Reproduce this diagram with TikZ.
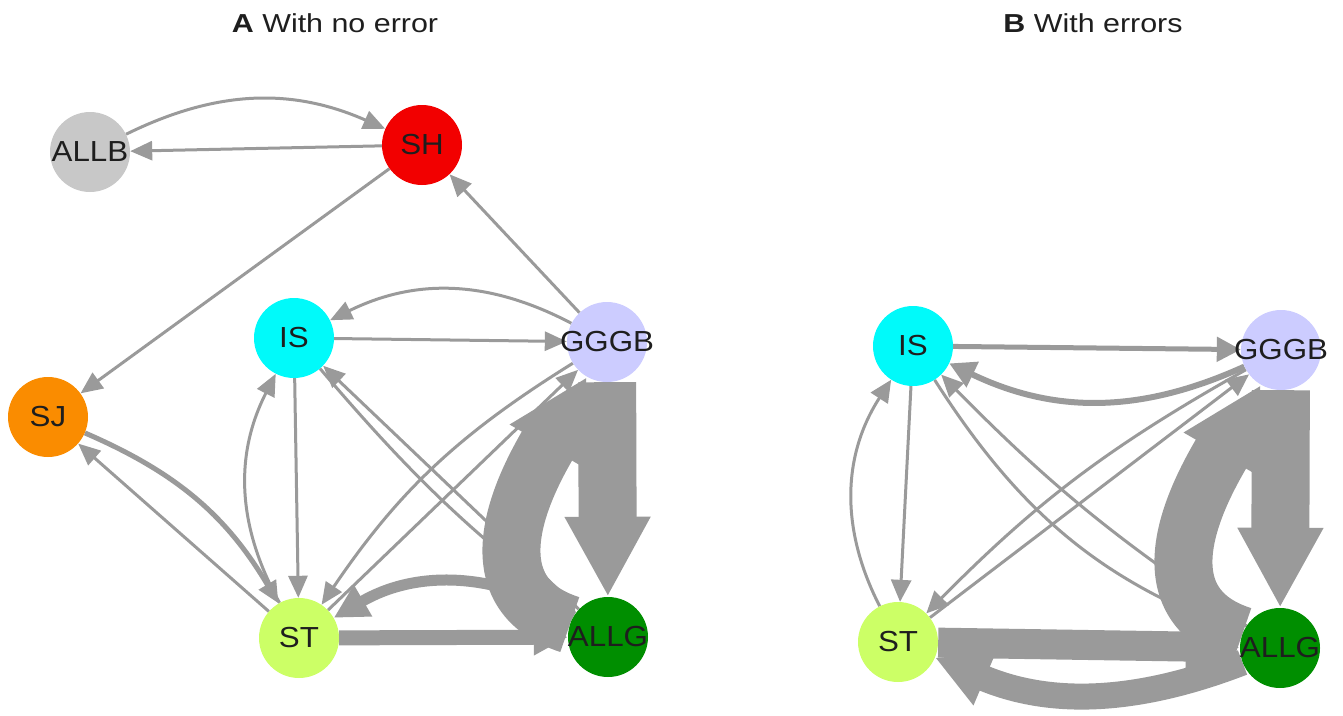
\documentclass[tikz,border=0pt]{standalone}
\usepackage{fontspec}
\setmainfont{Liberation Sans}
\usetikzlibrary{arrows.meta,backgrounds}
\definecolor{eg}{HTML}{9A9A9A}
\definecolor{cALLB}{HTML}{C8C8C8}
\definecolor{cSH}{HTML}{F20000}
\definecolor{cIS}{HTML}{00FAFA}
\definecolor{cGGGB}{HTML}{CCCCFF}
\definecolor{cSJ}{HTML}{FA8C00}
\definecolor{cST}{HTML}{CCFF66}
\definecolor{cALLG}{HTML}{008E00}
\definecolor{txt}{HTML}{1E1E1E}
\newcommand{\nlab}[1]{\makebox[0pt]{\scalebox{1.08}[1]{\fontsize{29pt}{31pt}\selectfont #1}}}
\newcommand{\ttl}[1]{\scalebox{1.17}[1]{\fontsize{26pt}{28pt}\selectfont #1}}
\begin{document}
\begin{tikzpicture}[x=1pt,y=1pt,
  nd/.style={circle,minimum size=80pt,inner sep=0pt,text=txt},
  thinA/.style={draw=eg,line width=3pt,-{Triangle[length=22pt,width=19pt]}},
  thinB/.style={draw=eg,line width=3pt,-{Triangle[length=22pt,width=20pt]}},
  medA/.style={draw=eg,line width=11pt,-{Triangle[length=34pt,width=34pt]}},
  wideB/.style={draw=eg,line width=26pt,-{Triangle[length=54pt,width=54pt]}},
  huge/.style={draw=eg,line width=58pt,-{Triangle[length=80pt,width=80pt]}}]
\useasboundingbox (0,0) rectangle (1343,-715);
\node[text=txt] (tA) at (335,-23) {\ttl{\textbf{A} With no error}};
\node[text=txt] (tB) at (1093,-23) {\ttl{\textbf{B} With errors}};
% panel A nodes
\node[nd,fill=cALLB] (aALLB) at (90,-152) {\nlab{ALLB}};
\node[nd,fill=cSH] (aSH) at (422,-145) {\nlab{SH}};
\node[nd,fill=cIS] (aIS) at (294,-338) {\nlab{IS}};
\node[nd,fill=cGGGB] (aGGGB) at (607,-342) {\nlab{GGGB}};
\node[nd,fill=cSJ] (aSJ) at (48,-417) {\nlab{SJ}};
\node[nd,fill=cST] (aST) at (299,-638) {\nlab{ST}};
\node[nd,fill=cALLG] (aALLG) at (608,-637) {\nlab{ALLG}};
% panel B nodes
\node[nd,fill=cIS] (bIS) at (913,-346) {\nlab{IS}};
\node[nd,fill=cGGGB] (bGGGB) at (1281,-350) {\nlab{GGGB}};
\node[nd,fill=cST] (bST) at (898,-642) {\nlab{ST}};
\node[nd,fill=cALLG] (bALLG) at (1280,-648) {\nlab{ALLG}};
\begin{pgfonlayer}{background}
% panel A edges
\draw[thinA] (aALLB) to[bend left=25] (aSH);
\draw[thinA] (aSH) -- (aALLB);
\draw[thinA] (aSH) -- (aSJ);
\draw[thinA] (aGGGB) -- (aSH);
\draw[thinA] (aGGGB) to[bend right=27] (aIS);
\draw[thinA] (aIS) -- (aGGGB);
\draw[thinA] (aIS) -- (aST);
\draw[thinA] (aST) to[bend left=28] (aIS);
\draw[thinA] (aIS) to[bend right=6] (aALLG);
\draw[thinA] (aALLG) -- (aIS);
\draw[thinA] (aGGGB) to[bend right=12] (aST);
\draw[thinA] (aST) -- (aGGGB);
\draw[thinA] (aST) -- (aSJ);
\draw[thinA,line width=5pt] (aSJ) to[bend left=18] (aST);
\draw[medA] (aALLG) to[bend right=30] (aST);
\draw[medA,line width=15pt] (aST) -- (aALLG);
\draw[huge] (aGGGB) -- (aALLG);
\draw[huge] (aALLG) to[out=162,in=240,looseness=1.15] (aGGGB);
% panel B edges
\draw[thinB,line width=5pt,-{Triangle[length=24pt,width=24pt]}] (bIS) -- (bGGGB);
\draw[thinB,line width=6pt,-{Triangle[length=26pt,width=27pt]}] (bGGGB) to[bend left=25] (bIS);
\draw[thinB] (bIS) -- (bST);
\draw[thinB] (bST) to[bend left=30] (bIS);
\draw[thinB] (bIS) to[bend right=18] (bALLG);
\draw[thinB] (bALLG) to[bend left=6] (bIS);
\draw[thinB] (bGGGB) to[bend right=8] (bST);
\draw[thinB] (bST) -- (bGGGB);
\draw[wideB,line width=30pt] (bST) -- (bALLG);
\draw[wideB] (bALLG) to[bend left=22] (bST);
\draw[huge] (bGGGB) -- (bALLG);
\draw[huge] (bALLG) to[out=162,in=240,looseness=1.15] (bGGGB);
\end{pgfonlayer}
\end{tikzpicture}
\end{document}
